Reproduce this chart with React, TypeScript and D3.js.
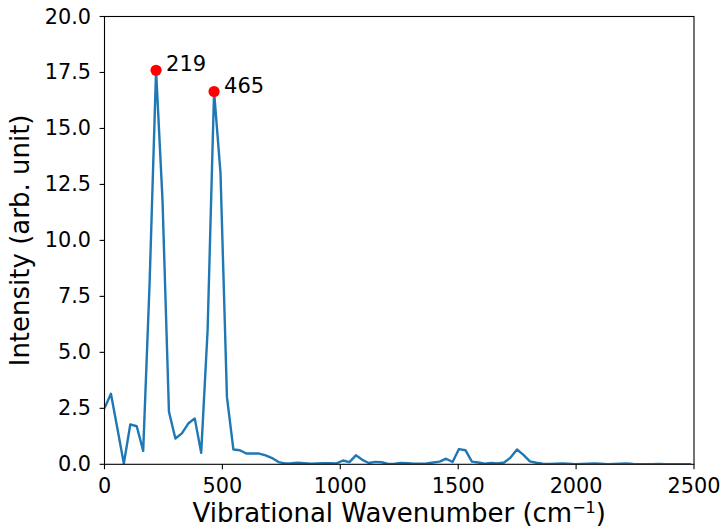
import React from "react";
import * as d3 from "d3";

const wavenumbers = [
  0, 27.3, 54.7, 82, 109.3, 136.7, 164, 191.3, 218.7, 246, 273.3, 300.7, 328,
  355.3, 382.7, 410, 437.3, 464.7, 492, 519.3, 546.7, 574, 601.3, 628.7, 656,
  683.3, 710.7, 738, 765.3, 792.7, 820, 847.3, 874.7, 902, 929.3, 956.7, 984,
  1011.3, 1038.7, 1066, 1093.3, 1120.7, 1148, 1175.3, 1202.7, 1230, 1257.3,
  1284.7, 1312, 1339.3, 1366.7, 1394, 1421.3, 1448.7, 1476, 1503.3, 1530.7,
  1558, 1585.3, 1612.7, 1640, 1667.3, 1694.7, 1722, 1749.3, 1776.7, 1804,
  1831.3, 1858.7, 1886, 1913.3, 1940.7, 1968, 1995.3, 2022.7, 2050, 2077.3,
  2104.7, 2132, 2159.3, 2186.7, 2214, 2241.3, 2268.7, 2296, 2323.3, 2350.7,
  2378, 2405.3, 2432.7, 2460, 2487.3
];

const intensities = [
  2.5, 3.15, 1.6, 0.03, 1.78, 1.7, 0.6, 8.1, 17.6, 11.8, 2.35, 1.15, 1.38,
  1.82, 2.05, 0.51, 6.0, 16.65, 13.0, 3.0, 0.66, 0.63, 0.48, 0.48, 0.48, 0.4,
  0.28, 0.1, 0.04, 0.05, 0.07, 0.05, 0.03, 0.04, 0.05, 0.05, 0.04, 0.17, 0.1,
  0.4, 0.2, 0.06, 0.11, 0.09, 0.02, 0.03, 0.06, 0.05, 0.03, 0.03, 0.04, 0.08,
  0.12, 0.25, 0.1, 0.68, 0.63, 0.12, 0.08, 0.03, 0.06, 0.04, 0.08, 0.3, 0.66,
  0.42, 0.13, 0.07, 0.03, 0.02, 0.03, 0.04, 0.03, 0.01, 0.02, 0.03, 0.04,
  0.03, 0.01, 0.02, 0.03, 0.04, 0.02, 0.01, 0.01, 0.01, 0.02, 0.01, 0.01,
  0.01, 0.01, 0.01
];

const peakX = [218.7, 464.7];
const peakY = [17.6, 16.65];
const peakLabels = ["219", "465"];

const xTicks = [0, 500, 1000, 1500, 2000, 2500];
const yTicks = [0, 2.5, 5, 7.5, 10, 12.5, 15, 17.5, 20];

const width = 723;
const height = 529;
const margin = { left: 104.5, right: 29, top: 16.5, bottom: 64.7 };
const font = "DejaVu Sans";

const App = () => {
  const x = d3
    .scaleLinear()
    .domain([0, 2500])
    .range([margin.left, width - margin.right]);
  const y = d3
    .scaleLinear()
    .domain([0, 20])
    .range([height - margin.bottom, margin.top]);

  const n = Math.min(wavenumbers.length, intensities.length);
  const points: [number, number][] = d3
    .range(n)
    .map(i => [wavenumbers[i], intensities[i]]);
  const line = d3
    .line<[number, number]>()
    .x(d => x(d[0]))
    .y(d => y(d[1]));

  const x0 = x.range()[0];
  const x1 = x.range()[1];
  const y0 = y.range()[0];
  const y1 = y.range()[1];

  return (
    <svg
      width={width}
      height={height}
      style={{ position: "absolute", left: 0, top: 0, background: "white" }}
      fontFamily={font}
    >
      <defs>
        <clipPath id="plot">
          <rect x={x0} y={y1} width={x1 - x0} height={y0 - y1} />
        </clipPath>
      </defs>

      <path
        d={line(points) ?? ""}
        fill="none"
        stroke="#1f77b4"
        strokeWidth={2.4}
        strokeLinejoin="round"
        clipPath="url(#plot)"
      />

      {peakX.map((px, i) => (
        <g key={peakLabels[i]}>
          <circle cx={x(px)} cy={y(peakY[i])} r={5.6} fill="red" />
          <text x={x(px) + 10} y={y(peakY[i]) + 1} fontSize={21}>
            {peakLabels[i]}
          </text>
        </g>
      ))}

      <rect
        x={x0}
        y={y1}
        width={x1 - x0}
        height={y0 - y1}
        fill="none"
        stroke="black"
        strokeWidth={1.1}
      />

      {xTicks.map(t => (
        <g key={t} transform={`translate(${x(t)},${y0})`}>
          <line y2={4.9} stroke="black" strokeWidth={1.1} />
          <text y={29.2} textAnchor="middle" fontSize={20.8}>
            {t}
          </text>
        </g>
      ))}

      {yTicks.map(t => (
        <g key={t} transform={`translate(${x0},${y(t)})`}>
          <line x2={-4.9} stroke="black" strokeWidth={1.1} />
          <text
            x={-13.5}
            textAnchor="end"
            dominantBaseline="central"
            fontSize={20.8}
          >
            {d3.format(".1f")(t)}
          </text>
        </g>
      ))}

      <text
        x={(x0 + x1) / 2}
        y={height - 7}
        textAnchor="middle"
        fontSize={26}
      >
        Vibrational Wavenumber (cm
        <tspan dy={-9} fontSize={16}>
          −1
        </tspan>
        <tspan dy={9}>)</tspan>
      </text>

      <text
        transform={`translate(29,${(y0 + y1) / 2}) rotate(-90)`}
        textAnchor="middle"
        fontSize={26}
      >
        Intensity (arb. unit)
      </text>
    </svg>
  );
};

export default App;
